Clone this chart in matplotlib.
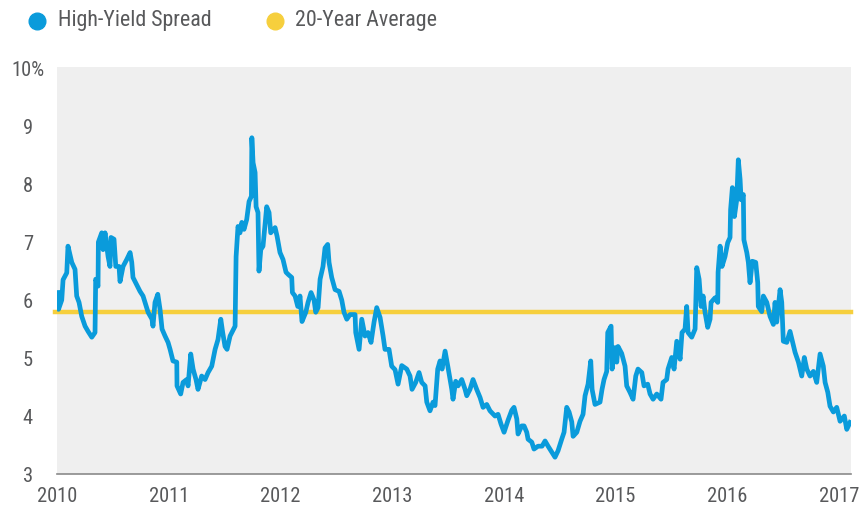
"""High-yield spread vs its 20-year average, 2010-2017."""
import matplotlib
matplotlib.use("Agg")
import matplotlib.pyplot as plt
from matplotlib.lines import Line2D

plt.rcParams["font.family"] = ["Roboto Condensed", "Liberation Sans Narrow", "Roboto", "DejaVu Sans"]

BLUE = "#0a9bdb"
YELLOW = "#f6cf3d"
TXT = "#58595b"

# decimal years and spread (%)
YEARS = [
    2010.006, 2010.013, 2010.042, 2010.054, 2010.087, 2010.098, 2010.132, 2010.161, 2010.176, 2010.197,
    2010.221, 2010.251, 2010.278, 2010.311, 2010.340, 2010.346, 2010.367, 2010.370, 2010.400, 2010.412,
    2010.430, 2010.457, 2010.474, 2010.483, 2010.510, 2010.526, 2010.555, 2010.564, 2010.591, 2010.624,
    2010.654, 2010.669, 2010.680, 2010.714, 2010.743, 2010.770, 2010.788, 2010.815, 2010.850, 2010.859,
    2010.877, 2010.902, 2010.922, 2010.940, 2010.967, 2010.994, 2011.012, 2011.038, 2011.072, 2011.074,
    2011.107, 2011.128, 2011.161, 2011.173, 2011.197, 2011.218, 2011.244, 2011.262, 2011.295, 2011.325,
    2011.352, 2011.385, 2011.415, 2011.441, 2011.466, 2011.483, 2011.504, 2011.522, 2011.549, 2011.594,
    2011.603, 2011.620, 2011.638, 2011.654, 2011.674, 2011.698, 2011.719, 2011.740, 2011.744, 2011.755,
    2011.773, 2011.782, 2011.799, 2011.808, 2011.824, 2011.844, 2011.877, 2011.898, 2011.913, 2011.952,
    2011.970, 2011.996, 2012.023, 2012.050, 2012.071, 2012.101, 2012.107, 2012.131, 2012.155, 2012.175,
    2012.193, 2012.227, 2012.247, 2012.274, 2012.301, 2012.316, 2012.337, 2012.355, 2012.381, 2012.399,
    2012.423, 2012.435, 2012.459, 2012.489, 2012.525, 2012.549, 2012.569, 2012.594, 2012.623, 2012.668,
    2012.674, 2012.704, 2012.728, 2012.757, 2012.784, 2012.811, 2012.838, 2012.862, 2012.892, 2012.919,
    2012.936, 2012.972, 2012.996, 2013.026, 2013.053, 2013.086, 2013.131, 2013.160, 2013.178, 2013.211,
    2013.241, 2013.265, 2013.295, 2013.310, 2013.339, 2013.366, 2013.384, 2013.408, 2013.429, 2013.447,
    2013.474, 2013.500, 2013.534, 2013.545, 2013.569, 2013.590, 2013.623, 2013.653, 2013.668, 2013.697,
    2013.724, 2013.757, 2013.787, 2013.814, 2013.847, 2013.876, 2013.921, 2013.948, 2013.975, 2014.002,
    2014.038, 2014.071, 2014.091, 2014.116, 2014.127, 2014.160, 2014.181, 2014.205, 2014.217, 2014.250,
    2014.270, 2014.306, 2014.342, 2014.369, 2014.396, 2014.429, 2014.458, 2014.485, 2014.518, 2014.539,
    2014.563, 2014.584, 2014.608, 2014.620, 2014.653, 2014.682, 2014.709, 2014.727, 2014.754, 2014.778,
    2014.790, 2014.816, 2014.861, 2014.879, 2014.897, 2014.921, 2014.930, 2014.960, 2014.969, 2014.996,
    2015.011, 2015.022, 2015.055, 2015.085, 2015.100, 2015.129, 2015.157, 2015.181, 2015.201, 2015.235,
    2015.255, 2015.288, 2015.309, 2015.336, 2015.369, 2015.407, 2015.425, 2015.458, 2015.470, 2015.503,
    2015.524, 2015.548, 2015.578, 2015.595, 2015.622, 2015.637, 2015.649, 2015.682, 2015.712, 2015.727,
    2015.748, 2015.766, 2015.784, 2015.801, 2015.825, 2015.846, 2015.855, 2015.891, 2015.915, 2015.918,
    2015.936, 2015.953, 2015.980, 2016.004, 2016.025, 2016.030, 2016.046, 2016.064, 2016.085, 2016.099,
    2016.115, 2016.124, 2016.144, 2016.149, 2016.175, 2016.189, 2016.204, 2016.224, 2016.255, 2016.273,
    2016.278, 2016.309, 2016.323, 2016.354, 2016.383, 2016.413, 2016.428, 2016.443, 2016.473, 2016.488,
    2016.502, 2016.533, 2016.562, 2016.583, 2016.607, 2016.637, 2016.667, 2016.690, 2016.712, 2016.741,
    2016.771, 2016.801, 2016.831, 2016.860, 2016.876, 2016.900, 2016.920, 2016.950, 2016.980, 2017.010,
    2017.048, 2017.070, 2017.099,
]
SPREAD = [
    6.13, 5.84, 6.00, 6.35, 6.47, 6.93, 6.65, 6.53, 6.07, 5.96,
    5.72, 5.55, 5.46, 5.36, 5.44, 6.36, 6.24, 7.00, 7.16, 6.87,
    7.16, 6.75, 6.58, 7.08, 7.05, 6.58, 6.58, 6.32, 6.58, 6.70,
    6.82, 6.65, 6.39, 6.26, 6.15, 6.07, 5.96, 5.79, 5.67, 5.55,
    5.96, 6.10, 5.84, 5.50, 5.38, 5.27, 5.15, 4.95, 4.93, 4.52,
    4.38, 4.58, 4.63, 4.52, 5.07, 4.81, 4.63, 4.46, 4.69, 4.63,
    4.75, 4.86, 5.15, 5.32, 5.67, 5.44, 5.20, 5.15, 5.38, 5.55,
    6.75, 7.27, 7.16, 7.34, 7.22, 7.39, 7.70, 7.79, 8.80, 8.37,
    8.20, 7.61, 7.51, 6.50, 6.87, 6.93, 7.61, 7.51, 7.16, 7.25,
    7.10, 6.82, 6.70, 6.48, 6.44, 6.39, 6.13, 6.07, 5.89, 6.07,
    5.63, 5.79, 5.96, 6.13, 6.00, 5.79, 5.87, 6.36, 6.58, 6.90,
    6.96, 6.65, 6.39, 6.18, 6.15, 6.00, 5.79, 5.67, 5.75, 5.75,
    5.44, 5.15, 5.67, 5.38, 5.44, 5.27, 5.62, 5.87, 5.70, 5.38,
    5.15, 5.15, 4.86, 4.80, 4.55, 4.87, 4.81, 4.69, 4.46, 4.58,
    4.75, 4.58, 4.52, 4.24, 4.09, 4.24, 4.18, 4.81, 4.95, 4.81,
    5.12, 4.84, 4.46, 4.29, 4.60, 4.52, 4.63, 4.46, 4.35, 4.46,
    4.63, 4.46, 4.32, 4.15, 4.20, 4.09, 4.00, 4.03, 3.86, 3.72,
    3.93, 4.10, 4.15, 3.95, 3.69, 3.83, 3.83, 3.72, 3.60, 3.55,
    3.43, 3.48, 3.48, 3.57, 3.48, 3.38, 3.29, 3.40, 3.60, 3.72,
    4.15, 4.07, 3.90, 3.65, 3.72, 3.91, 4.03, 4.35, 4.55, 4.95,
    4.46, 4.20, 4.24, 4.46, 4.63, 4.77, 5.44, 5.55, 4.81, 5.18,
    4.93, 5.20, 5.08, 4.86, 4.52, 4.41, 4.29, 4.69, 4.81, 4.75,
    4.52, 4.55, 4.38, 4.29, 4.38, 4.29, 4.58, 4.63, 4.81, 5.01,
    4.81, 5.29, 4.98, 5.44, 5.50, 5.89, 5.44, 5.36, 5.50, 6.56,
    6.36, 5.89, 6.07, 5.79, 5.53, 5.67, 5.96, 6.04, 5.96, 6.48,
    6.93, 6.58, 6.75, 6.99, 7.08, 7.56, 7.94, 7.44, 7.73, 8.42,
    8.08, 7.73, 7.82, 7.04, 6.82, 6.65, 6.30, 6.67, 6.65, 6.30,
    5.89, 5.80, 6.07, 5.96, 5.72, 5.58, 5.96, 5.62, 6.18, 5.96,
    5.29, 5.27, 5.46, 5.29, 5.10, 4.93, 4.69, 5.01, 4.81, 4.69,
    4.77, 4.58, 5.07, 4.86, 4.58, 4.41, 4.17, 4.07, 4.15, 3.91,
    4.00, 3.77, 3.89,
]
AVG_20Y = 5.8
YTICKS = [3, 4, 5, 6, 7, 8, 9, 10]
YLABELS = ["3", "4", "5", "6", "7", "8", "9", "10%"]
XTICKS = [2010, 2011, 2012, 2013, 2014, 2015, 2016, 2017]


def main():
    fig = plt.figure(figsize=(8.59, 5.08), dpi=100)
    ax = fig.add_axes([0.0664, 0.0669, 0.9243, 0.8012])
    ax.set_facecolor("#efefef")

    ax.axhline(AVG_20Y, color=YELLOW, lw=3.2, zorder=2, xmin=-0.003, clip_on=False)
    ax.plot(YEARS, SPREAD, color=BLUE, lw=3.4, solid_joinstyle="round", zorder=3)

    ax.set_xlim(2010, 2017.108)
    ax.set_ylim(3, 10.02)
    ax.set_yticks(YTICKS, YLABELS)
    ax.set_xticks(XTICKS, [str(y) for y in XTICKS])
    for s in ("left", "right", "top"):
        ax.spines[s].set_visible(False)
    ax.spines["bottom"].set_color("#8a8a8a")
    ax.spines["bottom"].set_linewidth(1.2)
    ax.tick_params(axis="both", length=0, labelsize=14.8, labelcolor=TXT)
    ax.tick_params(axis="x", pad=9)
    ax.tick_params(axis="y", pad=21)
    for lab in ax.get_yticklabels():
        lab.set_horizontalalignment("center")

    # legend row along the top
    for x, col, label in [(0.043, BLUE, "High-Yield Spread"), (0.320, YELLOW, "20-Year Average")]:
        fig.add_artist(Line2D([x], [0.959], marker="o", ms=12, color=col, lw=0,
                              transform=fig.transFigure))
        fig.text(x + 0.024, 0.959, label, fontsize=15.8, color=TXT, va="center", ha="left")

    fig.savefig("out.png", dpi=100)
    plt.close(fig)


if __name__ == "__main__":
    main()
